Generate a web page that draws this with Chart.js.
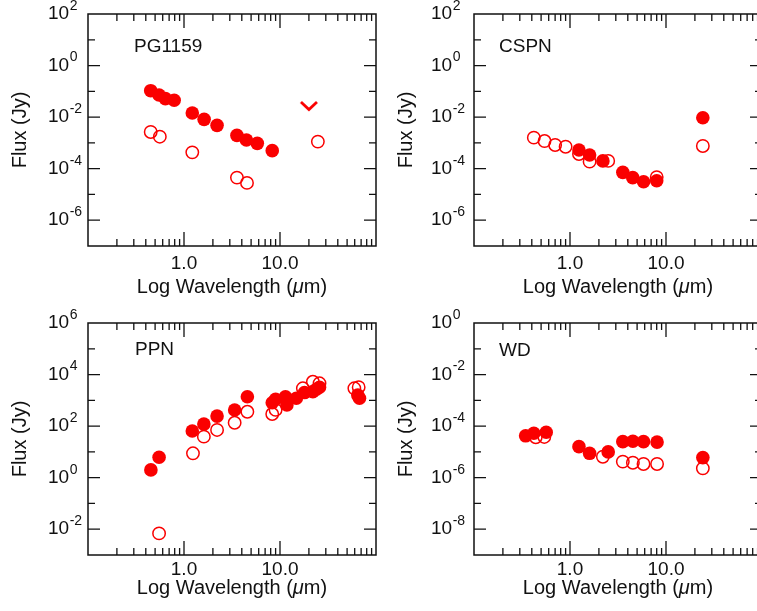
<!DOCTYPE html>
<html>
<head>
<meta charset="utf-8">
<script src="https://cdn.jsdelivr.net/npm/chart.js@4.4.0/dist/chart.umd.min.js"></script>
<style>
html, body { margin: 0; padding: 0; background: #fff; overflow: hidden; width: 757px; height: 611px; }
canvas { position: absolute; left: 0; top: 0; }
</style>
</head>
<body>
<canvas id="pg" width="770" height="611"></canvas>
<canvas id="cspn" width="770" height="611"></canvas>
<canvas id="ppn" width="770" height="611"></canvas>
<canvas id="wd" width="770" height="611"></canvas>
<script>
// ==========================================================
// DATA (wavelength in micron, flux in Jy)
// ==========================================================

const pgFilledX = [0.45, 0.55, 0.64, 0.79, 1.22, 1.62, 2.21, 3.56, 4.47, 5.8, 8.3];
const pgFilledY = [0.106, 0.072, 0.052, 0.045, 0.0145, 0.0082, 0.0048, 0.00195, 0.0013, 0.00096, 0.0005];
const pgOpenX = [0.45, 0.56, 1.22, 3.56, 4.53, 24.8];
const pgOpenY = [0.00265, 0.00174, 0.00043, 4.5e-5, 2.8e-5, 0.00112];
const pgLimitX = [20];
const pgLimitY = [0.027];

const cspnFilledX = [1.24, 1.6, 2.2, 3.55, 4.5, 5.84, 8.0, 24.2];
const cspnFilledY = [0.00053, 0.00034, 0.0002, 7.2e-5, 4.5e-5, 3.1e-5, 3.4e-5, 0.0095];
const cspnOpenX = [0.42, 0.543, 0.70, 0.90, 1.24, 1.6, 2.5, 8.0, 24.2];
const cspnOpenY = [0.0016, 0.00118, 0.00083, 0.00071, 0.00037, 0.000187, 0.0002, 4.7e-5, 0.00076];

const ppnFilledX = [0.452, 0.55, 1.22, 1.61, 2.21, 3.37, 4.57, 8.3, 9.0, 11.4, 11.8, 14.8, 18.0, 22.0, 24.0, 25.8, 64.6, 67.3];
const ppnFilledY = [2.0, 6.2, 65, 120, 245, 420, 1380, 810, 1100, 1380, 660, 1200, 2000, 2170, 2700, 3200, 1600, 1200];
const ppnOpenX = [0.55, 1.24, 1.61, 2.21, 3.37, 4.57, 8.3, 9.0, 17.3, 22.0, 25.8, 59.5, 66];
const ppnOpenY = [0.0069, 8.8, 39, 71, 135, 360, 295, 425, 2930, 5250, 4570, 2930, 3240];

const wdFilledX = [0.345, 0.42, 0.565, 1.24, 1.6, 2.5, 3.55, 4.52, 5.83, 8.07, 24.2];
const wdFilledY = [4.2e-5, 5.3e-5, 5.8e-5, 1.6e-5, 8.8e-6, 1.0e-5, 2.5e-5, 2.6e-5, 2.5e-5, 2.4e-5, 6.0e-6];
const wdOpenX = [0.44, 0.54, 2.2, 3.55, 4.52, 5.83, 8.07, 24.2];
const wdOpenY = [3.7e-5, 3.8e-5, 6.5e-6, 4.2e-6, 3.8e-6, 3.4e-6, 3.4e-6, 2.3e-6];

// tick labels
const xTickValues = [1, 10];
const pgYExponents = [2, 0, -2, -4, -6];
const cspnYExponents = [2, 0, -2, -4, -6];
const ppnYExponents = [6, 4, 2, 0, -2];
const wdYExponents = [0, -2, -4, -6, -8];

// ==========================================================
// STYLE
// ==========================================================

const RED = "rgb(250,0,0)";
const INK = "#111";
const FONT = "'Liberation Sans', Arial, Helvetica, sans-serif";

const CANVAS_W = 770;
const CANVAS_H = 611;

function toPoints(xs, ys) {
    return xs.map((x, i) => ({ x: x, y: ys[i] }));
}

// small downward chevron for the upper limit
function makeChevron() {
    const c = document.createElement("canvas");
    c.width = 20;
    c.height = 12;
    const g = c.getContext("2d");
    g.strokeStyle = RED;
    g.lineWidth = 2.8;
    g.lineCap = "butt";
    g.lineJoin = "miter";
    g.beginPath();
    g.moveTo(2, 2);
    g.lineTo(10, 9.5);
    g.lineTo(18, 2);
    g.stroke();
    return c;
}

// ==========================================================
// FRAME, TICKS AND TEXT
// ==========================================================

const framePlugin = {

    id: "frame",

    beforeDatasetsDraw(chart, args, p) {

        const ctx = chart.ctx;
        const a = chart.chartArea;
        const xs = chart.scales.x;
        const ys = chart.scales.y;

        ctx.save();
        ctx.strokeStyle = INK;
        ctx.lineWidth = 1.5;
        ctx.strokeRect(a.left, a.top, a.right - a.left, a.bottom - a.top);

        ctx.lineWidth = 1.3;
        ctx.beginPath();

        for (let d = -1; d <= 1; d++) {
            for (let m = 1; m <= 9; m++) {
                if (d === -1 && m === 1) continue;
                const px = xs.getPixelForValue(m * Math.pow(10, d));
                const len = m === 1 ? 14 : 7;
                ctx.moveTo(px, a.bottom);
                ctx.lineTo(px, a.bottom - len);
                ctx.moveTo(px, a.top);
                ctx.lineTo(px, a.top + len);
            }
        }

        for (let e = p.yMin + 1; e < p.yMax; e++) {
            const py = ys.getPixelForValue(Math.pow(10, e));
            const len = p.exponents.includes(e) ? 12 : 7;
            ctx.moveTo(a.left, py);
            ctx.lineTo(a.left + len, py);
            ctx.moveTo(a.right, py);
            ctx.lineTo(a.right - len, py);
        }

        ctx.stroke();

        ctx.fillStyle = INK;

        // x tick labels
        ctx.font = "19px " + FONT;
        ctx.textAlign = "center";
        ctx.textBaseline = "middle";
        xTickValues.forEach(v => {
            ctx.fillText(v.toFixed(1), xs.getPixelForValue(v), a.bottom + p.tickDy);
        });

        // y tick labels
        p.exponents.forEach(e => {
            const py = ys.getPixelForValue(Math.pow(10, e));
            const lx = a.left + p.labelX;
            ctx.font = "19px " + FONT;
            ctx.textAlign = "left";
            ctx.textBaseline = "middle";
            ctx.fillText("10", lx, py);
            const w = ctx.measureText("10").width;
            ctx.font = "14px " + FONT;
            ctx.fillText(String(e), lx + w + 0.5, py - 8);
        });

        // x title with italic mu
        ctx.font = "20px " + FONT;
        ctx.textBaseline = "middle";
        ctx.textAlign = "left";
        const t1 = "Log Wavelength (";
        const t2 = "\u03bc";
        const t3 = "m)";
        const w1 = ctx.measureText(t1).width;
        const w3 = ctx.measureText(t3).width;
        ctx.font = "italic 20px " + FONT;
        const w2 = ctx.measureText(t2).width;
        let tx = (a.left + a.right) / 2 - (w1 + w2 + w3) / 2;
        const ty = a.bottom + p.titleDy;
        ctx.font = "20px " + FONT;
        ctx.fillText(t1, tx, ty);
        ctx.font = "italic 20px " + FONT;
        ctx.fillText(t2, tx + w1, ty);
        ctx.font = "20px " + FONT;
        ctx.fillText(t3, tx + w1 + w2, ty);

        // y title
        ctx.save();
        ctx.translate(a.left - 68, (a.top + a.bottom) / 2);
        ctx.rotate(-Math.PI / 2);
        ctx.textAlign = "center";
        ctx.fillText("Flux (Jy)", 0, 0);
        ctx.restore();

        // panel name
        ctx.font = "19px " + FONT;
        ctx.textAlign = "left";
        ctx.fillText(p.name, a.left + p.nameDx, a.top + p.nameDy);

        ctx.restore();
    }
};

// ==========================================================
// PANELS
// ==========================================================

const panels = [
    {
        id: "pg", name: "PG1159",
        box: { left: 88, top: 14, right: 376, bottom: 246 },
        yMin: -7, yMax: 2, exponents: pgYExponents,
        filled: toPoints(pgFilledX, pgFilledY),
        open: toPoints(pgOpenX, pgOpenY),
        limit: toPoints(pgLimitX, pgLimitY),
        labelX: -40, nameDx: 46, nameDy: 33, tickDy: 17.5, titleDy: 41
    },
    {
        id: "cspn", name: "CSPN",
        box: { left: 474, top: 14, right: 762, bottom: 246 },
        yMin: -7, yMax: 2, exponents: cspnYExponents,
        filled: toPoints(cspnFilledX, cspnFilledY),
        open: toPoints(cspnOpenX, cspnOpenY),
        limit: [],
        labelX: -43, nameDx: 25, nameDy: 33, tickDy: 17.5, titleDy: 41
    },
    {
        id: "ppn", name: "PPN",
        box: { left: 88, top: 323, right: 376, bottom: 555 },
        yMin: -3, yMax: 6, exponents: ppnYExponents,
        filled: toPoints(ppnFilledX, ppnFilledY),
        open: toPoints(ppnOpenX, ppnOpenY),
        limit: [],
        labelX: -40, nameDx: 47, nameDy: 27, tickDy: 15, titleDy: 33
    },
    {
        id: "wd", name: "WD",
        box: { left: 474, top: 323, right: 762, bottom: 555 },
        yMin: -9, yMax: 0, exponents: wdYExponents,
        filled: toPoints(wdFilledX, wdFilledY),
        open: toPoints(wdOpenX, wdOpenY),
        limit: [],
        labelX: -43, nameDx: 25, nameDy: 28, tickDy: 15, titleDy: 33
    }
];

const chevron = makeChevron();

panels.forEach(p => {

    new Chart(document.getElementById(p.id), {

        type: "scatter",

        data: {
            datasets: [
                {
                    label: "filled",
                    data: p.filled,
                    pointRadius: 6.8,
                    pointBackgroundColor: RED,
                    pointBorderColor: RED,
                    pointBorderWidth: 0
                },
                {
                    label: "open",
                    data: p.open,
                    pointRadius: 6.2,
                    pointBackgroundColor: "rgba(255,255,255,0)",
                    pointBorderColor: RED,
                    pointBorderWidth: 1.5
                },
                {
                    label: "limit",
                    data: p.limit,
                    pointStyle: chevron,
                    pointRadius: 10
                }
            ]
        },

        options: {
            responsive: false,
            animation: false,
            events: [],
            clip: false,
            layout: {
                padding: {
                    left: p.box.left,
                    top: p.box.top,
                    right: CANVAS_W - p.box.right,
                    bottom: CANVAS_H - p.box.bottom
                }
            },
            plugins: {
                legend: { display: false },
                tooltip: { enabled: false },
                frame: p
            },
            scales: {
                x: {
                    type: "logarithmic",
                    min: 0.1,
                    max: 100,
                    display: false
                },
                y: {
                    type: "logarithmic",
                    min: Math.pow(10, p.yMin),
                    max: Math.pow(10, p.yMax),
                    display: false
                }
            }
        },

        plugins: [framePlugin]
    });
});
</script>
</body>
</html>
